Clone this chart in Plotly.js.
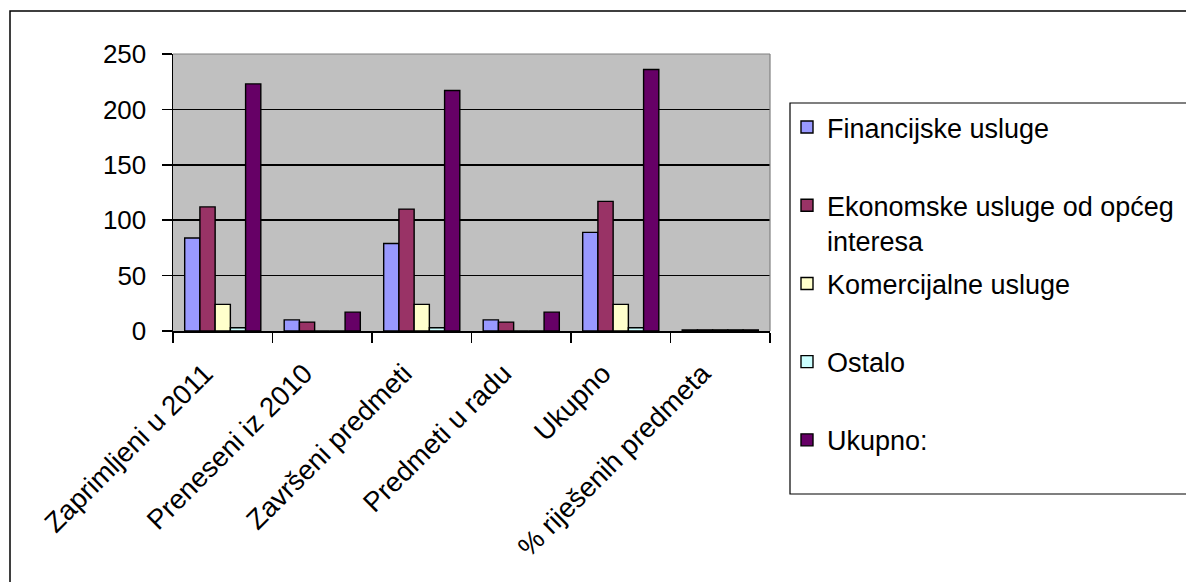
<!DOCTYPE html>
<html>
<head>
<meta charset="utf-8">
<script src="https://cdn.plot.ly/plotly-3.0.1.min.js"></script>
<style>html,body{margin:0;padding:0;background:#fff;}#chart{width:1186px;height:582px;}</style>
</head>
<body>
<div id="chart"></div>
<script>
const categories = ["Zaprimljeni u 2011", "Preneseni iz 2010", "Završeni predmeti", "Predmeti u radu", "Ukupno", "% riješenih predmeta"];
const seriesNames = ["Financijske usluge", "Ekonomske usluge od općeg<br>interesa", "Komercijalne usluge", "Ostalo", "Ukupno:"];
const financijske = [84, 10, 79, 10, 89, 0.96];
const ekonomske = [112, 8, 110, 8, 117, 0.98];
const komercijalne = [24, 0, 24, 0, 24, 1];
const ostalo = [3, 0, 3, 0, 3, 1];
const ukupno = [223, 17, 217, 17, 236, 0.97];
const colors = ["#9999FF", "#993366", "#FFFFCC", "#CCFFFF", "#660066"];
const yTicks = [0, 50, 100, 150, 200, 250];

const values = [financijske, ekonomske, komercijalne, ostalo, ukupno];
const FONT = "Liberation Sans, Arial, sans-serif";

const traces = values.map((v, i) => ({
  type: "bar",
  x: categories,
  y: v,
  name: (i === 1 ? seriesNames[i] : seriesNames[i] + "<br> "),
  legendgroup: "g" + i,
  marker: { color: colors[i], line: { color: "#000", width: 1.4 } },
  hoverinfo: "x+y"
}));

// plot area: x 173..770, y 54..331
const L = 173, R = 770, T = 54, B = 331, W = 1186, H = 582;
const px = x => (x - L) / (R - L);
const py = y => (B - y) / (B - T);

const layout = {
  width: W, height: H,
  margin: { l: L, r: W - R, t: T, b: H - B, pad: 0, autoexpand: false },
  paper_bgcolor: "#fff",
  plot_bgcolor: "#C0C0C0",
  barmode: "group",
  bargap: 0.235,
  bargroupgap: 0,
  font: { family: FONT, size: 26, color: "#000" },
  showlegend: true,
  legend: {
    x: px(787), xanchor: "left",
    y: py(103), yanchor: "top",
    bgcolor: "rgba(0,0,0,0)",
    borderwidth: 0,
    font: { family: FONT, size: 27, color: "#000" },
    valign: "top",
    tracegroupgap: 5,
    traceorder: "grouped",
    maxheight: 470
  },
  xaxis: {
    type: "category",
    showline: true, linecolor: "#000", linewidth: 1.5,
    ticks: "outside", ticklen: 10, tickcolor: "#000", tickwidth: 1.5,
    tickson: "boundaries",
    tickangle: -45,
    ticklabelstandoff: 14,
    ticklabelshift: -18,
    tickfont: { family: FONT, size: 27.5, color: "#000" },
    showgrid: false, zeroline: false,
    fixedrange: true
  },
  yaxis: {
    range: [0, 250],
    tickvals: yTicks,
    ticktext: yTicks.map(String),
    showline: true, linecolor: "#000", linewidth: 1.5,
    ticks: "outside", ticklen: 10, tickcolor: "#000", tickwidth: 1.5,
    ticklabelstandoff: 10,
    tickfont: { family: FONT, size: 26, color: "#000" },
    showgrid: true, gridcolor: "#000", gridwidth: 1.5,
    zeroline: false,
    fixedrange: true
  },
  shapes: [
    { type: "rect", xref: "paper", yref: "paper", x0: px(10), x1: px(1195), y0: py(600), y1: py(11),
      line: { color: "#000", width: 1.5 }, fillcolor: "rgba(0,0,0,0)", layer: "below" },
    { type: "rect", xref: "paper", yref: "paper", x0: px(790), x1: px(1195), y0: py(494), y1: py(103),
      line: { color: "#000", width: 1.2 }, fillcolor: "rgba(0,0,0,0)", layer: "above" },
    { type: "line", xref: "paper", yref: "paper", x0: 0, x1: 1, y0: 1, y1: 1, line: { color: "#808080", width: 1.2 } },
    { type: "line", xref: "paper", yref: "paper", x0: 1, x1: 1, y0: 0, y1: 1, line: { color: "#808080", width: 1.2 } }
  ]
};

Plotly.newPlot("chart", traces, layout, { displayModeBar: false, staticPlot: true });
</script>
</body>
</html>
